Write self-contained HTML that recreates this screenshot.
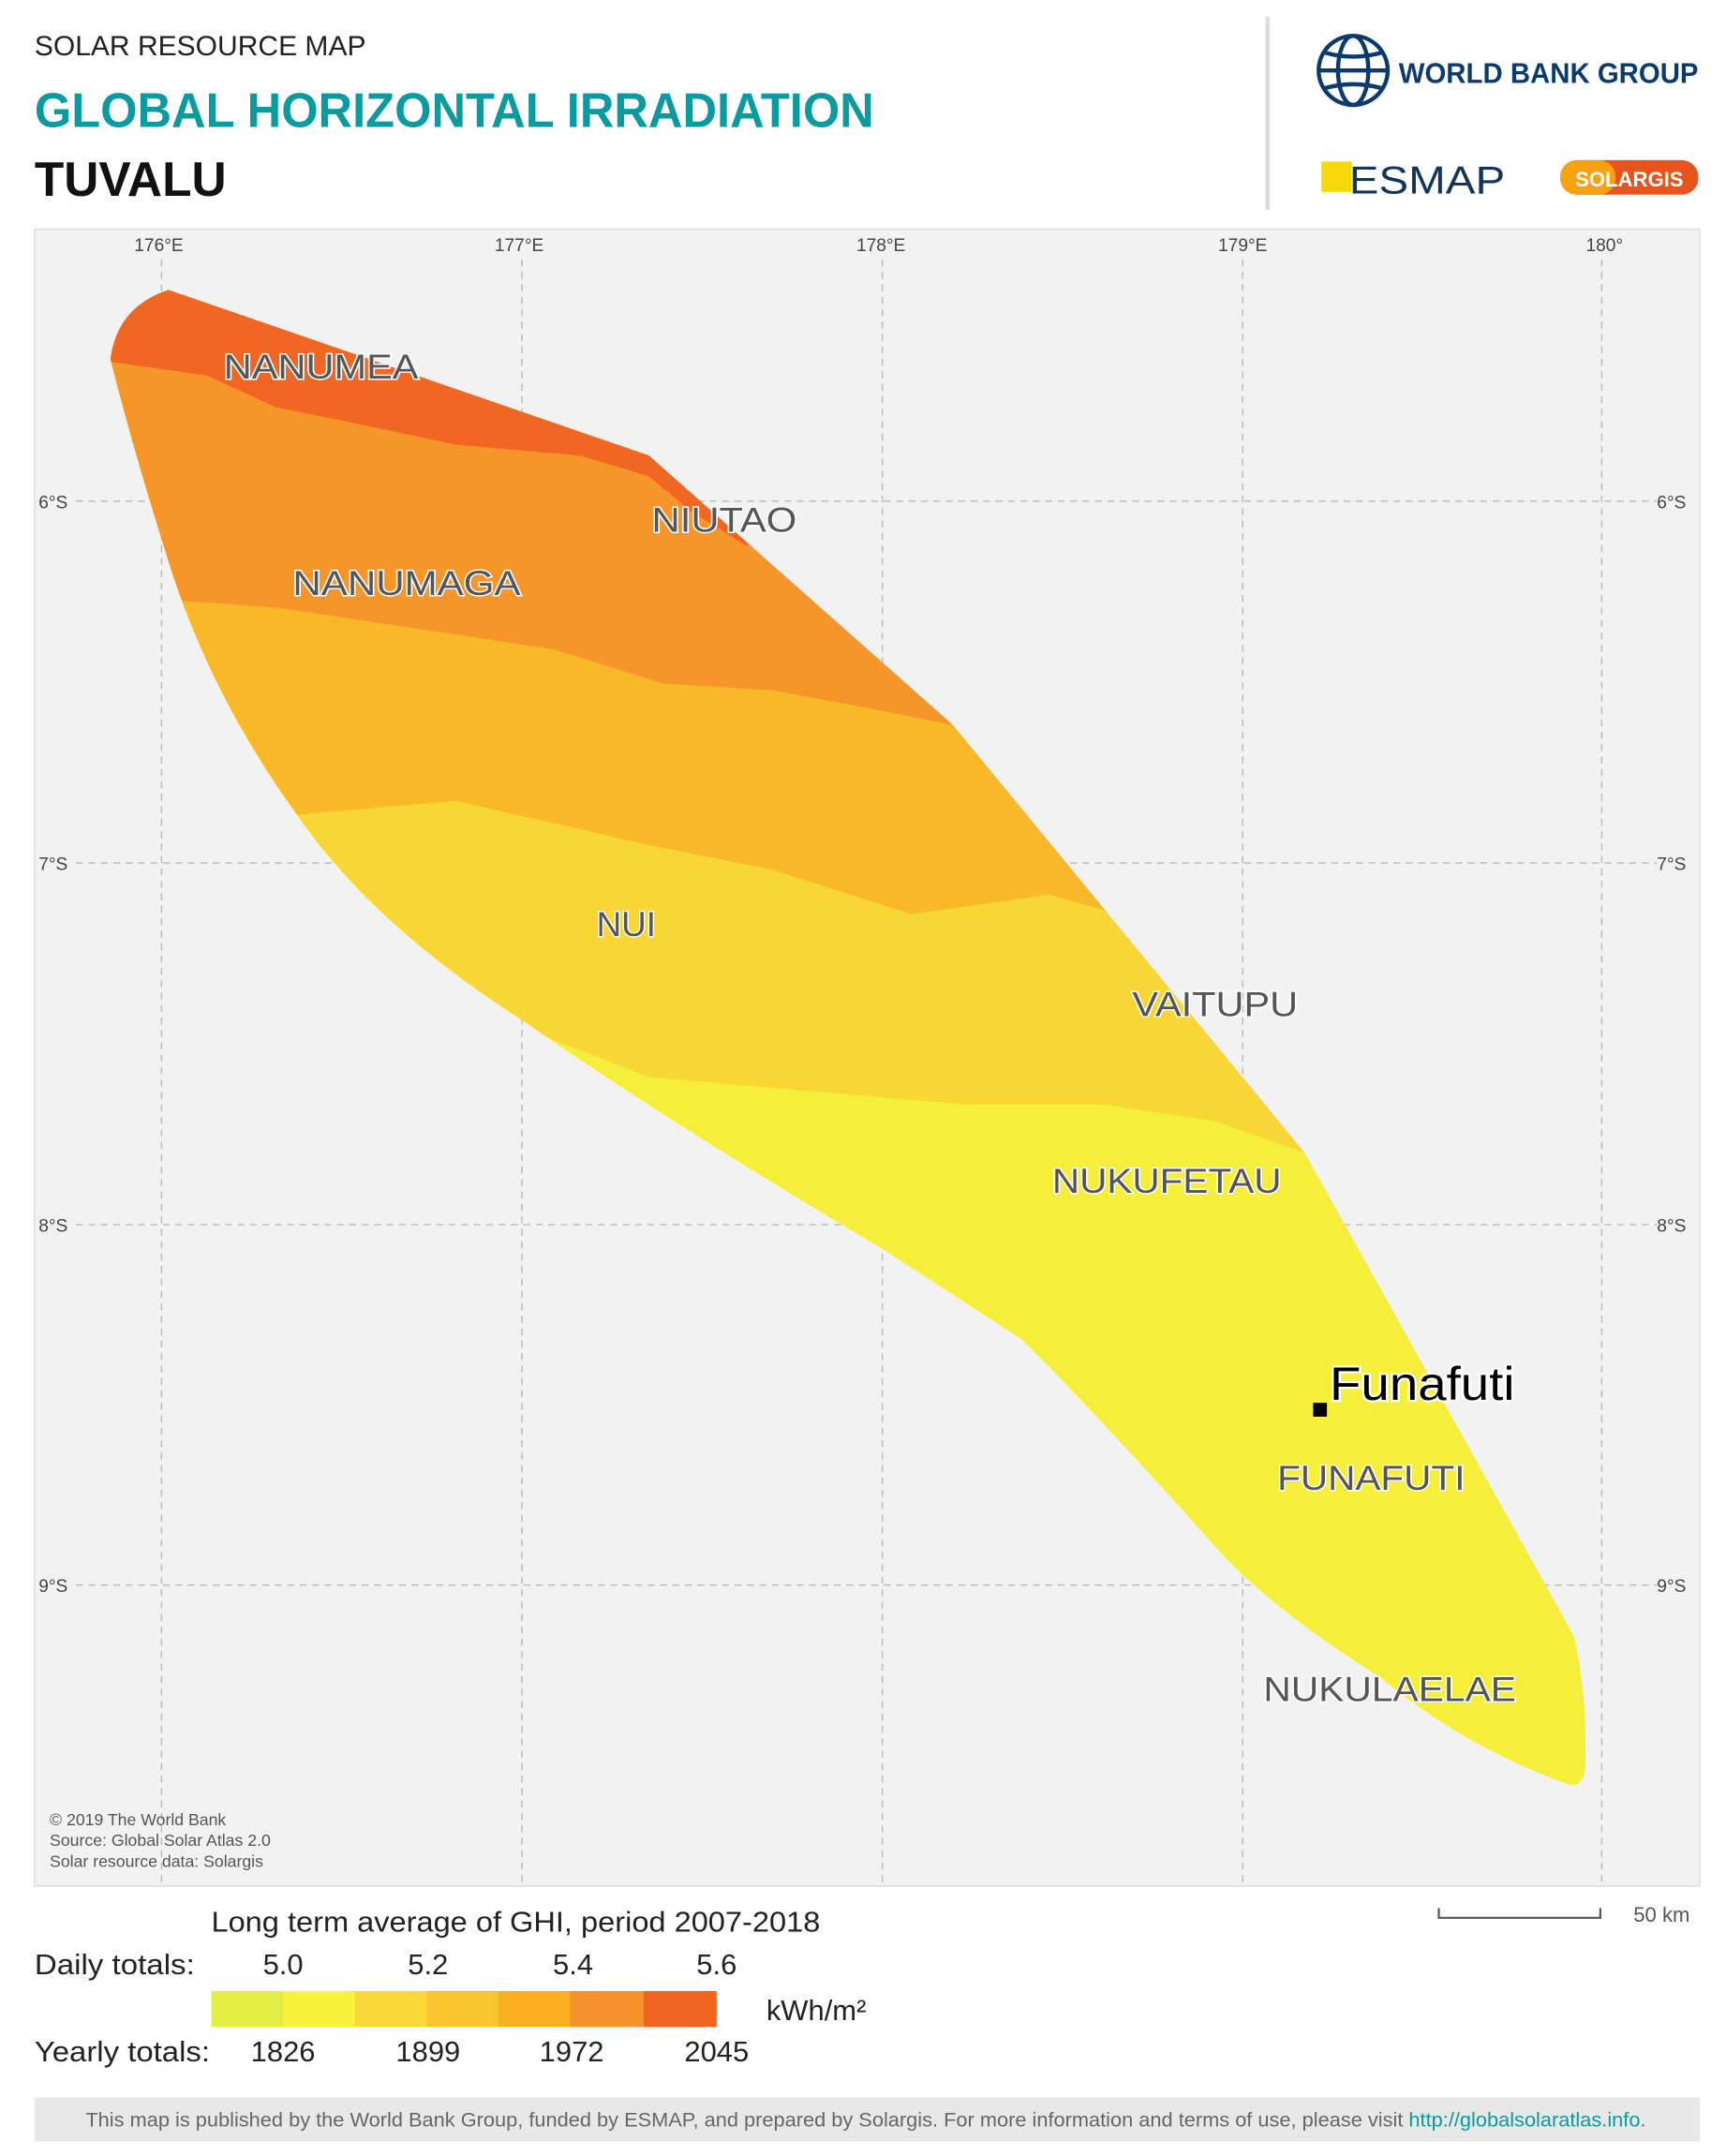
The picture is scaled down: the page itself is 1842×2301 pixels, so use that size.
<!DOCTYPE html>
<html><head><meta charset="utf-8"><style>
html,body{margin:0;padding:0;background:#fff;}
svg{display:block;font-family:"Liberation Sans",sans-serif;}
.isl{font-size:25px;fill:#555;stroke:#fff;stroke-width:2px;paint-order:stroke;}
.tk{font-size:13px;fill:#444}
</style></head><body>
<svg width="1842" height="2301" viewBox="0 0 1250 1561.5" xmlns="http://www.w3.org/2000/svg">
<rect width="1250" height="1562" fill="#fff"/>
<text x="25" y="40" font-size="20" fill="#222" textLength="240" lengthAdjust="spacingAndGlyphs">SOLAR RESOURCE MAP</text>
<text x="25" y="92" font-size="35" font-weight="bold" fill="#0a9ba1" textLength="608" lengthAdjust="spacingAndGlyphs">GLOBAL HORIZONTAL IRRADIATION</text>
<text x="25" y="142" font-size="35" font-weight="bold" fill="#111" textLength="139" lengthAdjust="spacingAndGlyphs">TUVALU</text>
<line x1="918" y1="12" x2="918" y2="152" stroke="#ddd" stroke-width="3"/>
<g fill="none" stroke="#0b3a6e" stroke-width="3">
<circle cx="980" cy="51" r="25"/>
<ellipse cx="980" cy="51" rx="11" ry="25"/>
<line x1="955" y1="51" x2="1005" y2="51"/>
<path d="M959 38 Q980 44 1001 38 M959 64 Q980 58 1001 64"/>
</g>
<text x="1013" y="60" font-size="21" font-weight="bold" fill="#0b3a6e" textLength="217" lengthAdjust="spacingAndGlyphs">WORLD BANK GROUP</text>
<rect x="957" y="117" width="22" height="22" fill="#f5d90a"/>
<text x="977" y="140" font-size="28" fill="#12355b" textLength="113" lengthAdjust="spacingAndGlyphs">ESMAP</text>
<rect x="1130" y="116" width="100" height="25" rx="12" fill="#e8551c"/>
<rect x="1130" y="116" width="40" height="25" rx="12" fill="#f6a10f"/>
<text x="1180" y="135" font-size="15" font-weight="bold" fill="#fff" text-anchor="middle">SOLARGIS</text>
<rect x="25" y="166" width="1206" height="1200" fill="#f2f2f2" stroke="#ddd"/>
<g stroke="#bbb" stroke-dasharray="5,4" stroke-width="1">
<line x1="117" y1="188" x2="117" y2="1366"/><line x1="378" y1="188" x2="378" y2="1366"/><line x1="639" y1="188" x2="639" y2="1366"/><line x1="900" y1="188" x2="900" y2="1366"/><line x1="1160" y1="188" x2="1160" y2="1366"/>
<line x1="55" y1="363" x2="1200" y2="363"/><line x1="55" y1="625" x2="1200" y2="625"/><line x1="55" y1="887" x2="1200" y2="887"/><line x1="55" y1="1148" x2="1200" y2="1148"/>
</g>
<g class="tk" text-anchor="middle">
<text x="115" y="182">176°E</text><text x="376" y="182">177°E</text><text x="638" y="182">178°E</text><text x="900" y="182">179°E</text><text x="1162" y="182">180°</text>
</g>
<g class="tk"><text x="28" y="368">6°S</text><text x="28" y="630">7°S</text><text x="28" y="892">8°S</text><text x="28" y="1153">9°S</text>
<text x="1200" y="368">6°S</text><text x="1200" y="630">7°S</text><text x="1200" y="892">8°S</text><text x="1200" y="1153">9°S</text></g>
<defs><clipPath id="c"><path d="M122,210 L470,330 L690,525 L945,835 L1140,1185 Q1150,1230 1148,1280 Q1146,1296 1135,1292 Q1060,1265 1000,1215 Q920,1165 880,1120 Q800,1030 740,970 L640,905 Q480,810 380,740 Q270,670 215,590 Q150,500 120,400 Q95,320 80,260 Q85,222 122,210 Z"/></clipPath></defs>
<g clip-path="url(#c)">
<rect x="60" y="190" width="1110" height="1120" fill="#f5ef3c"/>
<path d="M60,190 H1170 V830 L945,835 L880,812 L800,800 L700,800 L560,788 L470,780 L380,745 L60,760 Z" fill="#f8d636"/>
<path d="M60,190 H1170 V655 L810,662 L760,648 L660,662 L560,630 L470,612 L330,580 L215,590 L60,600 Z" fill="#f8b828"/>
<path d="M60,190 H1170 V520 L690,525 L640,515 L560,500 L480,495 L400,470 L300,455 L200,440 L130,435 L60,440 Z" fill="#f5952a"/>
<path d="M60,190 H1170 V200 L540,395 L500,370 L470,345 L420,330 L330,322 L250,305 L200,295 L150,272 L80,262 L60,262 Z" fill="#f26623"/>
</g>
<g class="isl">
<text x="162" y="274" textLength="141" lengthAdjust="spacingAndGlyphs">NANUMEA</text><text x="472" y="385" textLength="105" lengthAdjust="spacingAndGlyphs">NIUTAO</text><text x="212" y="431" textLength="165" lengthAdjust="spacingAndGlyphs">NANUMAGA</text>
<text x="432" y="678">NUI</text><text x="820" y="736" textLength="120" lengthAdjust="spacingAndGlyphs">VAITUPU</text><text x="762" y="864" textLength="166" lengthAdjust="spacingAndGlyphs">NUKUFETAU</text>
<text x="925" y="1079" textLength="136" lengthAdjust="spacingAndGlyphs">FUNAFUTI</text><text x="915" y="1232" textLength="183" lengthAdjust="spacingAndGlyphs">NUKULAELAE</text>
</g>
<rect x="951" y="1016" width="10" height="10" fill="#000"/>
<text x="963" y="1014" font-size="34" fill="#000" stroke="#fff" stroke-width="3" paint-order="stroke" textLength="134" lengthAdjust="spacingAndGlyphs">Funafuti</text>
<g font-size="12" fill="#555"><text x="36" y="1322">© 2019 The World Bank</text><text x="36" y="1337">Source: Global Solar Atlas 2.0</text><text x="36" y="1352">Solar resource data: Solargis</text></g>
<text x="153" y="1399" font-size="21" fill="#222" textLength="441" lengthAdjust="spacingAndGlyphs">Long term average of GHI, period 2007-2018</text>
<text x="25" y="1430" font-size="21" fill="#222" textLength="116" lengthAdjust="spacingAndGlyphs">Daily totals:</text>
<g font-size="21" fill="#222" text-anchor="middle"><text x="205" y="1430">5.0</text><text x="310" y="1430">5.2</text><text x="415" y="1430">5.4</text><text x="519" y="1430">5.6</text>
<text x="205" y="1493">1826</text><text x="310" y="1493">1899</text><text x="414" y="1493">1972</text><text x="519" y="1493">2045</text></g>
<text x="25" y="1493" font-size="21" fill="#222" textLength="127" lengthAdjust="spacingAndGlyphs">Yearly totals:</text>
<rect x="153" y="1442" width="53" height="26" fill="#e3ee42"/><rect x="205" y="1442" width="53" height="26" fill="#f8f23c"/><rect x="257" y="1442" width="53" height="26" fill="#f9d838"/><rect x="309" y="1442" width="53" height="26" fill="#f9c52e"/><rect x="361" y="1442" width="53" height="26" fill="#f9b021"/><rect x="413" y="1442" width="53" height="26" fill="#f5922a"/><rect x="466" y="1442" width="53" height="26" fill="#f26322"/>
<text x="555" y="1463" font-size="21" fill="#222">kWh/m²</text>
<path d="M1042,1382 V1389 H1159 V1382" fill="none" stroke="#555" stroke-width="1.5"/>
<text x="1183" y="1392" font-size="15" fill="#555">50 km</text>
<rect x="25" y="1519" width="1206" height="32" fill="#e8e8e8"/>
<text x="62" y="1540" font-size="14.5" fill="#666" textLength="1130" lengthAdjust="spacingAndGlyphs">This map is published by the World Bank Group, funded by ESMAP, and prepared by Solargis. For more information and terms of use, please visit <tspan fill="#0a9ba1">http://globalsolaratlas.info</tspan>.</text>
</svg>
</body></html>
